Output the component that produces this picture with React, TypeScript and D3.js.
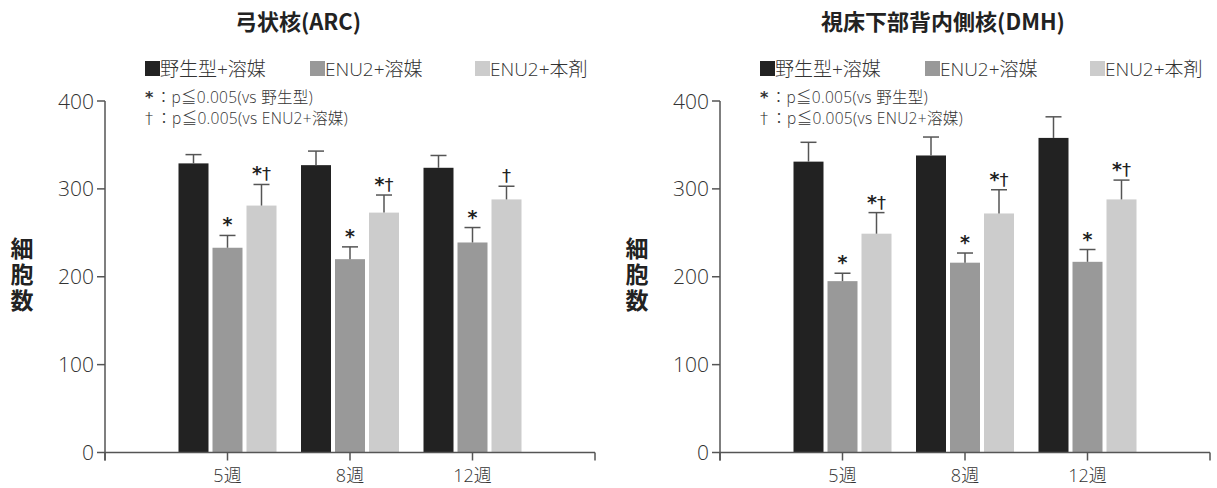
import React from "react";
import * as d3 from "d3";

const categories = ["5週", "8週", "12週"];
const seriesNames = ["野生型+溶媒", "ENU2+溶媒", "ENU2+本剤"];
const seriesColors = ["#222222", "#999999", "#cccccc"];
const yTicks = [0, 100, 200, 300, 400];

const arcWild = [329, 327, 324];
const arcWildErr = [10, 16, 14];
const arcVeh = [233, 220, 239];
const arcVehErr = [14, 14, 17];
const arcDrug = [281, 273, 288];
const arcDrugErr = [24, 20, 15];
const arcMarks = [["", "", ""], ["*", "*", "*"], ["*†", "*†", "†"]];

const dmhWild = [331, 338, 358];
const dmhWildErr = [22, 21, 24];
const dmhVeh = [195, 216, 217];
const dmhVehErr = [9, 11, 14];
const dmhDrug = [249, 272, 288];
const dmhDrugErr = [24, 27, 22];
const dmhMarks = [["", "", ""], ["*", "*", "*"], ["*†", "*†", "*†"]];

const FONT = "'Open Sans', 'Noto Sans CJK JP', sans-serif";
const CJK = "'Noto Sans CJK JP', sans-serif";
const SYM = "'DejaVu Sans', sans-serif";
const AX = "#555";

type Panel = {
  title: string;
  titleX: number;
  x0: number;
  values: number[][];
  errs: number[][];
  marks: string[][];
};

const panels: Panel[] = [
  { title: "弓状核(ARC)", titleX: 298, x0: 105, values: [arcWild, arcVeh, arcDrug], errs: [arcWildErr, arcVehErr, arcDrugErr], marks: arcMarks },
  { title: "視床下部背内側核(DMH)", titleX: 943, x0: 720, values: [dmhWild, dmhVeh, dmhDrug], errs: [dmhWildErr, dmhVehErr, dmhDrugErr], marks: dmhMarks },
];

function Mark({ x, y, s }: { x: number; y: number; s: string }) {
  return (
    <text x={x} y={y} textAnchor="middle" fill="#222" fontFamily={SYM}>
      {s.split("").map((ch, i) =>
        ch === "*" ? (
          <tspan key={i} fontSize={19} fontWeight="bold">*</tspan>
        ) : (
          <tspan key={i} fontSize={18} fontWeight="normal">†</tspan>
        )
      )}
    </text>
  );
}

function ChartPanel({ p }: { p: Panel }) {
  const y = d3.scaleLinear().domain([0, 400]).range([452.5, 101]);
  const x = d3.scaleLinear().domain([0, 4]).range([p.x0, p.x0 + 490]);
  const barW = 30;
  const step = 34;
  const lx = p.x0 + 40;
  const legendOff = [0, 165, 330];
  return (
    <g fontFamily={FONT}>
      <text x={p.titleX} y={30} textAnchor="middle" fontSize={22} fontWeight="bold" fill="#222" fontFamily={CJK}>{p.title}</text>
      {seriesNames.map((n, i) => (
        <g key={n}>
          <rect x={lx + legendOff[i]} y={61} width={15} height={15} fill={seriesColors[i]} />
          <text x={lx + legendOff[i] + 15} y={76} fontSize={19} fontWeight={300} fill="#333">{n}</text>
        </g>
      ))}
      <text x={lx} y={103} fontSize={15.5} fontWeight={300} fill="#333" letterSpacing={0.3}>
        <tspan fontWeight="bold" fontFamily={SYM} fontSize={16}>*</tspan>
        <tspan dx={2}>：p≦0.005(vs 野生型)</tspan>
      </text>
      <text x={lx} y={124} fontSize={15.5} fontWeight={300} fill="#333" letterSpacing={0.3}>
        <tspan fontFamily={SYM} fill="#222" fontSize={16}>†</tspan>
        <tspan dx={3}>：p≦0.005(vs ENU2+溶媒)</tspan>
      </text>
      {/* y label */}
      <text x={p.x0 - 83} y={237} fontSize={23} fontWeight="bold" fill="#222" fontFamily={CJK}
        style={{ writingMode: "vertical-rl" as any }} letterSpacing={3}>細胞数</text>
      {/* bars */}
      {categories.map((c, ci) =>
        p.values.map((vals, si) => {
          const cx = x(ci + 1) + (si - 1) * step;
          const v = vals[ci];
          const e = p.errs[si][ci];
          return (
            <g key={c + si}>
              <rect x={cx - barW / 2} y={y(v)} width={barW} height={y(0) - y(v)} fill={seriesColors[si]} />
              <line x1={cx} x2={cx} y1={y(v)} y2={y(v + e)} stroke="#555" strokeWidth={1.5} />
              <line x1={cx - 8} x2={cx + 8} y1={y(v + e)} y2={y(v + e)} stroke="#555" strokeWidth={1.5} />
              {p.marks[si][ci] && <Mark x={cx} y={y(v + e) - 4} s={p.marks[si][ci]} />}
            </g>
          );
        })
      )}
      {/* y axis */}
      <line x1={p.x0} x2={p.x0} y1={y(400)} y2={y(0) + 8} stroke={AX} strokeWidth={1.5} />
      {yTicks.map((t) => (
        <g key={t}>
          <line x1={p.x0 - 8} x2={p.x0} y1={y(t)} y2={y(t)} stroke={AX} strokeWidth={1.5} />
          <text x={p.x0 - 11} y={y(t)} dy="0.36em" textAnchor="end" fontSize={21} fontWeight={300} fill="#333">{t}</text>
        </g>
      ))}
      {/* x axis */}
      <line x1={p.x0} x2={x(4)} y1={y(0)} y2={y(0)} stroke={AX} strokeWidth={1.5} />
      {[0, 1, 2, 3, 4].map((t) => (
        <line key={t} x1={x(t)} x2={x(t)} y1={y(0)} y2={y(0) + 8} stroke={AX} strokeWidth={1.5} />
      ))}
      {categories.map((c, i) => (
        <text key={c} x={x(i + 1)} y={482} textAnchor="middle" fontSize={18} fontWeight={300} fill="#333">{c}</text>
      ))}
    </g>
  );
}

export default function App() {
  return (
    <svg width={1217} height={488} style={{ position: "absolute", left: 0, top: 0, background: "#fff" }}>
      <rect width={1217} height={488} fill="#fff" />
      {panels.map((p) => (
        <ChartPanel key={p.title} p={p} />
      ))}
    </svg>
  );
}
